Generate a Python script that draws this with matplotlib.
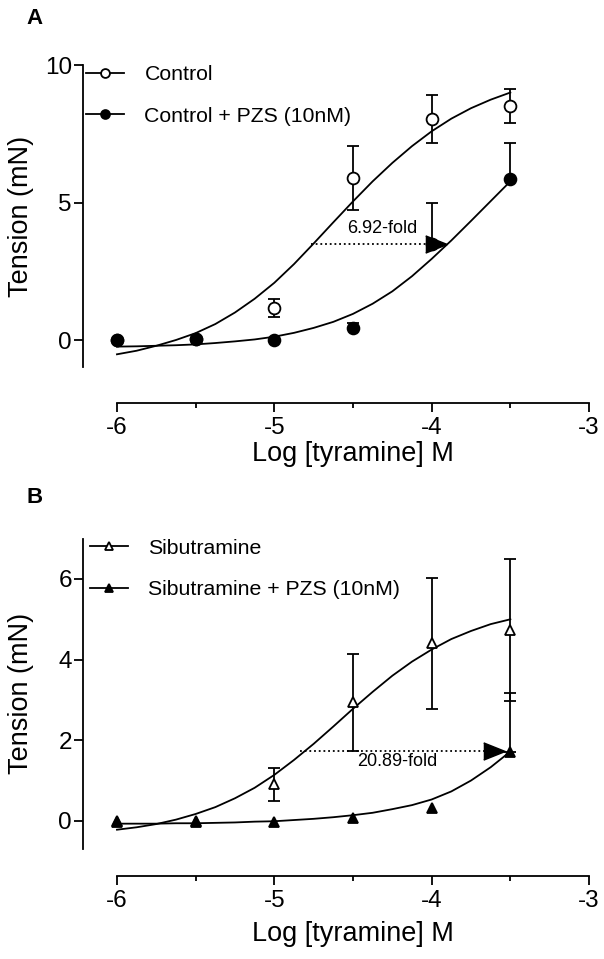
import matplotlib
matplotlib.use('Agg')
import matplotlib.pyplot as plt
from matplotlib.lines import Line2D
from matplotlib.ticker import MultipleLocator

plt.rcParams['font.family'] = ['Liberation Sans', 'DejaVu Sans']
plt.rcParams['axes.unicode_minus'] = False

# doses (log M)
log_conc = [-6.0, -5.5, -5.0, -4.5, -4.0, -3.5]

# panel A - means and SEM
control = [0.0, 0.03, 1.15, 5.88, 8.04, 8.51]
control_err = [0.0, 0.0, 0.33, 1.17, 0.86, 0.62]
control_pzs = [0.0, 0.03, 0.0, 0.42, 3.50, 5.85]
control_pzs_err = [0.0, 0.0, 0.0, 0.21, 1.47, 1.30]

# panel B
sibu = [0.0, 0.0, 0.91, 2.94, 4.40, 4.73]
sibu_err = [0.0, 0.0, 0.41, 1.20, 1.63, 1.76]
sibu_pzs = [-0.02, -0.02, -0.02, 0.06, 0.31, 1.72]
sibu_pzs_err = [0.0, 0.0, 0.0, 0.0, 0.0, 1.44]

# fitted curves
curve_x = [-6.0, -5.875, -5.75, -5.625, -5.5, -5.375, -5.25, -5.125, -5.0, -4.875, -4.75,
           -4.625, -4.5, -4.375, -4.25, -4.125, -4.0, -3.875, -3.75, -3.625, -3.5]
control_fit = [-0.52, -0.39, -0.21, 0.00, 0.25, 0.58, 1.00, 1.50, 2.08, 2.76, 3.51,
               4.28, 5.04, 5.77, 6.44, 7.05, 7.59, 8.05, 8.43, 8.74, 9.00]
control_pzs_fit = [-0.24, -0.23, -0.21, -0.19, -0.16, -0.11, -0.05, 0.02, 0.12, 0.26, 0.44,
                   0.66, 0.95, 1.32, 1.77, 2.32, 2.95, 3.62, 4.33, 5.05, 5.77]
sibu_fit = [-0.22, -0.16, -0.08, 0.03, 0.17, 0.34, 0.56, 0.82, 1.14, 1.51, 1.91,
            2.34, 2.78, 3.20, 3.60, 3.95, 4.25, 4.51, 4.71, 4.88, 5.00]
sibu_pzs_fit = [-0.07, -0.07, -0.07, -0.06, -0.06, -0.05, -0.04, -0.02, -0.01, 0.02, 0.05,
                0.09, 0.14, 0.20, 0.29, 0.39, 0.53, 0.73, 1.00, 1.33, 1.72]

# EC50 shift arrows: (start x, end x, y), label
shift_a = (-4.77, -3.975, 3.50)
shift_b = (-4.837, -3.605, 1.74)
fold_a = '6.92-fold'
fold_b = '20.89-fold'

LW = 1.3
head = [(-1, -0.8), (1, 0), (-1, 0.8)]


def draw_panel(ax, m_open, m_filled, y1, e1, y2, e2, fit1, fit2, shift, fold, fold_xy,
               ylim, ybounds, yticks, labels, ms, legend_anchor):
    ax.plot(curve_x, fit1, color='k', lw=LW, zorder=2)
    ax.plot(curve_x, fit2, color='k', lw=LW, zorder=2)

    # open series: error both ways, filled series: upward only
    idx = [i for i in range(len(log_conc)) if e1[i] > 0]
    ax.errorbar([log_conc[i] for i in idx], [y1[i] for i in idx], yerr=[e1[i] for i in idx],
                fmt='none', ecolor='k', elinewidth=LW, capsize=4, capthick=LW, zorder=3)
    idx = [i for i in range(len(log_conc)) if e2[i] > 0]
    ax.errorbar([log_conc[i] for i in idx], [y2[i] for i in idx],
                yerr=[[0] * len(idx), [e2[i] for i in idx]],
                fmt='none', ecolor='k', elinewidth=LW, capsize=4, capthick=LW, zorder=3)

    ax.plot(log_conc, y1, ls='none', marker=m_open, ms=ms, mfc='white', mec='k', mew=LW, zorder=4)
    ax.plot(log_conc, y2, ls='none', marker=m_filled, ms=ms, mfc='k', mec='k', mew=LW, zorder=5)

    x0, x1, yy = shift
    ax.plot([x0, x1], [yy, yy], color='k', lw=LW, ls=(0, (1, 1.6)), zorder=6)
    ax.plot([x1], [yy], ls='none', marker=head, ms=15.5, color='k', zorder=7)
    ax.text(fold_xy[0], fold_xy[1], fold, fontsize=13, ha='center', va='center', zorder=8)

    ax.set_xlim(-6.214, -3.0)
    ax.set_ylim(*ylim)
    for s in ['top', 'right']:
        ax.spines[s].set_visible(False)
    ax.spines['left'].set_bounds(*ybounds)
    ax.spines['bottom'].set_bounds(-6, -3)
    for s in ['left', 'bottom']:
        ax.spines[s].set_linewidth(LW)
    ax.set_xticks([-6, -5, -4, -3], ['-6', '-5', '-4', '-3'])
    ax.xaxis.set_minor_locator(MultipleLocator(0.5))
    ax.set_yticks(yticks, [str(t) for t in yticks])
    ax.tick_params(axis='both', which='major', direction='out', length=6.7, width=LW,
                   labelsize=17.5)
    ax.tick_params(axis='y', pad=1.5)
    ax.tick_params(axis='x', pad=3.5)
    ax.tick_params(axis='x', which='minor', direction='out', length=3.6, width=LW)

    ax.set_xlabel('Log [tyramine] M', fontsize=19.5)
    ax.set_ylabel('Tension (mN)', fontsize=19.5)

    handles = [Line2D([], [], color='k', lw=LW, marker=m_open, ms=ms * 0.75, mfc='white', mew=LW),
               Line2D([], [], color='k', lw=LW, marker=m_filled, ms=ms * 0.75, mfc='k', mew=LW)]
    ax.legend(handles, labels, loc='upper left', bbox_to_anchor=legend_anchor,
              bbox_transform=ax.figure.transFigure, frameon=False, fontsize=15.3,
              borderpad=0, borderaxespad=0, handlelength=1.8, handletextpad=0.95,
              labelspacing=1.05)


fig = plt.figure(figsize=(6.04, 9.59), dpi=100)

ax_a = fig.add_axes([0.1379, 0.5798, 0.8373, 0.3524])
draw_panel(ax_a, 'o', 'o', control, control_err, control_pzs, control_pzs_err,
           control_fit, control_pzs_fit, shift_a, fold_a, (-4.317, 4.06),
           (-2.29, 10), (-1, 10), [0, 5, 10], ['Control', 'Control + PZS (10nM)'], 8.5,
           (86 / 604, 1 - 65.5 / 959))
ax_a.yaxis.set_label_coords(-0.0975, 0.553)
ax_a.xaxis.set_label_coords(0.533, -0.114)

ax_b = fig.add_axes([0.1379, 0.0869, 0.8373, 0.3514])
draw_panel(ax_b, '^', '^', sibu, sibu_err, sibu_pzs, sibu_pzs_err,
           sibu_fit, sibu_pzs_fit, shift_b, fold_b, (-4.218, 1.46),
           (-1.36, 7), (-0.7, 7), [0, 2, 4, 6], ['Sibutramine', 'Sibutramine + PZS (10nM)'], 7.5,
           (90 / 604, 1 - 538.7 / 959))
ax_b.yaxis.set_label_coords(-0.0975, 0.54)
ax_b.xaxis.set_label_coords(0.533, -0.136)

fig.text(26.7 / 604, 1 - 24 / 959, 'A', fontsize=16, fontweight='bold', va='baseline')
fig.text(26.7 / 604, 1 - 503.3 / 959, 'B', fontsize=16, fontweight='bold', va='baseline')

fig.savefig('out.png', dpi=100)
